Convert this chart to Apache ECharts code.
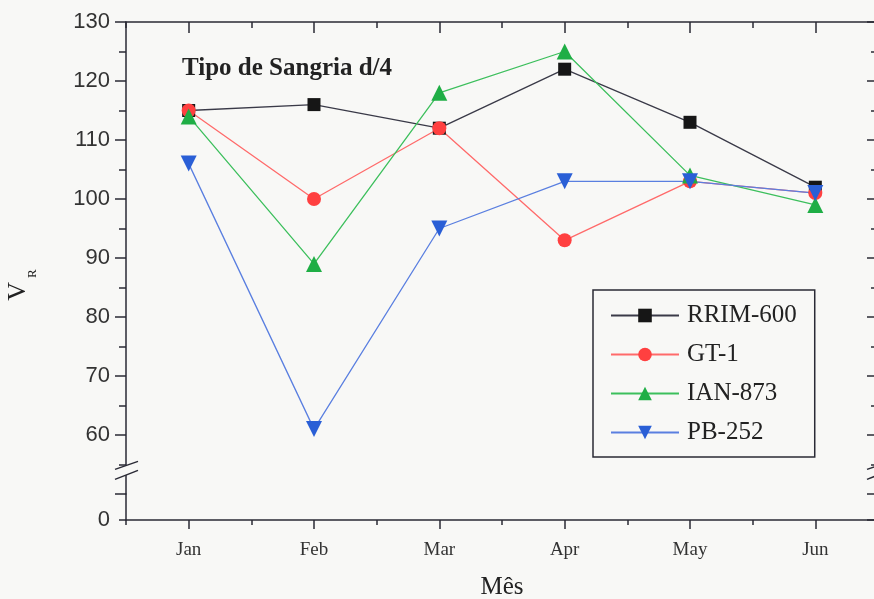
<!DOCTYPE html>
<html>
<head>
<meta charset="utf-8">
<title>Tipo de Sangria d/4</title>
<script src="https://cdn.jsdelivr.net/npm/echarts@6/dist/echarts.min.js"></script>
<style>
  html, body { margin: 0; padding: 0; background: #f8f8f6; }
  #chart { width: 874px; height: 599px; }
</style>
</head>
<body>
<div id="chart"></div>
<script>
// Months of collection
const months = ['Jan', 'Feb', 'Mar', 'Apr', 'May', 'Jun'];

// Mooney viscosity (V_R) per clone
const rrim600 = [115, 116, 112, 122, 113, 102];
const gt1     = [115, 100, 112,  93, 103, 101];
const ian873  = [114,  89, 118, 125, 104,  99];
const pb252   = [106,  61,  95, 103, 103, 101];

// Upper (main) y range and the short lower stub that holds the zero
const yMainMin = 50, yMainMax = 130, yMainStep = 10;
const yStubMin = 0, yStubMax = 5;
const yBreakAt = 54;   // where the "//" marks cut the axis

const BG = '#f8f8f6';
const AXIS = '#2a2a35';
const LEFT = 126, WIDTH = 752;
const GRID_MAIN = { left: LEFT, top: 22, width: WIDTH, height: 472 };
const GRID_STUB = { left: LEFT, top: 494, width: WIDTH, height: 26 };

const downTriangle = 'path://M0,0L10,0L5,9Z';

function lineSeries(name, data, symbol, size, markerColor, lineColor) {
  return {
    name: name,
    type: 'line',
    xAxisIndex: 2,
    yAxisIndex: 0,
    data: data,
    symbol: symbol,
    symbolSize: size,
    showSymbol: true,
    itemStyle: { color: markerColor, borderWidth: 0 },
    lineStyle: { color: lineColor, width: 1.3 },
    emphasis: { disabled: true },
    animation: false
  };
}

function yAxisCfg(gridIndex, position, min, max, step, minor, labelled, showLabels) {
  return {
    type: 'value',
    gridIndex: gridIndex,
    position: position,
    min: min,
    max: max,
    interval: step,
    axisLine: { show: true, lineStyle: { color: AXIS, width: 1.5 } },
    axisTick: { show: true, inside: position === 'right', length: 11, lineStyle: { color: AXIS, width: 1.5 } },
    minorTick: { show: minor, splitNumber: 2, length: 7, lineStyle: { color: AXIS, width: 1.5 } },
    splitLine: { show: false },
    axisLabel: {
      show: showLabels,
      margin: 16,
      fontFamily: 'Liberation Sans',
      fontSize: 22,
      color: '#333',
      formatter: function (v) { return labelled(v) ? String(v) : ''; }
    }
  };
}

function xAxisCfg(gridIndex, position, aligned, len, showLine, showLabel) {
  return {
    type: 'category',
    gridIndex: gridIndex,
    position: position,
    data: months,
    boundaryGap: true,
    axisLine: { show: showLine, lineStyle: { color: AXIS, width: 1.5 } },
    axisTick: { show: true, inside: position === 'top', alignWithLabel: aligned, length: len, lineStyle: { color: AXIS, width: 1.5 } },
    splitLine: { show: false },
    axisLabel: {
      show: showLabel,
      margin: 21,
      fontFamily: 'Liberation Serif',
      fontSize: 19,
      color: '#333'
    }
  };
}

const chart = echarts.init(document.getElementById('chart'), null, { renderer: 'canvas' });

const bottomAxis = xAxisCfg(1, 'bottom', true, 9, true, true);
bottomAxis.name = 'Mês';
bottomAxis.nameLocation = 'middle';
bottomAxis.nameGap = 55;
bottomAxis.nameTextStyle = { fontFamily: 'Liberation Serif', fontSize: 25, color: '#222' };

const mainLeft = yAxisCfg(0, 'left', yMainMin, yMainMax, yMainStep, true, function (v) { return v > yMainMin; }, true);
mainLeft.name = '{v|V}{r|R}';
mainLeft.nameLocation = 'middle';
mainLeft.nameGap = 87;
mainLeft.nameTextStyle = {
  padding: [0, 54, 0, 0],
  rich: {
    v: { fontFamily: 'Liberation Serif', fontSize: 26, lineHeight: 34, verticalAlign: 'top', color: '#222' },
    r: { fontFamily: 'Liberation Serif', fontSize: 13, lineHeight: 13, verticalAlign: 'bottom', color: '#222', padding: [0, 0, 0, 4] }
  }
};

const stubLeft = yAxisCfg(1, 'left', yStubMin, yStubMax, yStubMax, false, function (v) { return v === 0; }, true);
stubLeft.axisTick.length = 7;

chart.setOption({
  backgroundColor: BG,
  animation: false,
  title: {
    text: 'Tipo de Sangria d/4',
    left: 182,
    top: 56,
    padding: 0,
    textStyle: { fontFamily: 'Liberation Serif', fontWeight: 'bold', fontSize: 25, color: '#222' }
  },
  grid: [
    { left: GRID_MAIN.left, top: GRID_MAIN.top, width: GRID_MAIN.width, height: GRID_MAIN.height, containLabel: false, outerBoundsMode: 'none' },
    { left: GRID_STUB.left, top: GRID_STUB.top, width: GRID_STUB.width, height: GRID_STUB.height, containLabel: false, outerBoundsMode: 'none' }
  ],
  legend: {
    orient: 'vertical',
    left: 593,
    top: 290,
    itemWidth: 68,
    itemHeight: 17,
    itemGap: 14,
    padding: [13, 18, 12, 17],
    borderColor: AXIS,
    borderWidth: 1.5,
    selectedMode: false,
    textStyle: { fontFamily: 'Liberation Serif', fontSize: 25, color: '#222', padding: [0, 0, 0, 3] },
    data: ['RRIM-600', 'GT-1', 'IAN-873', 'PB-252']
  },
  xAxis: [
    bottomAxis,
    xAxisCfg(1, 'bottom', false, 5, false, false),
    xAxisCfg(0, 'top', true, 11, true, false),
    xAxisCfg(0, 'top', false, 6, false, false)
  ],
  yAxis: [
    mainLeft,
    yAxisCfg(0, 'right', yMainMin, yMainMax, yMainStep, true, function () { return false; }, false),
    stubLeft,
    yAxisCfg(1, 'right', yStubMin, yStubMax, yStubMax, false, function () { return false; }, false)
  ],
  series: [
    lineSeries('RRIM-600', rrim600, 'rect', 13, '#161616', '#3a3a48'),
    lineSeries('GT-1', gt1, 'circle', 14, '#ff4040', '#ff6a6a'),
    lineSeries('IAN-873', ian873, 'triangle', 16, '#1fae45', '#3cbf5c'),
    lineSeries('PB-252', pb252, downTriangle, 16, '#2a5fd6', '#5a7fe0')
  ]
});

// Draw "//" break marks where the y axes are interrupted
const mid = chart.convertToPixel({ yAxisIndex: 0 }, yBreakAt);
const marks = [];
[LEFT, LEFT + WIDTH].forEach(function (x) {
  marks.push({
    type: 'polygon',
    shape: { points: [[x - 11, mid - 1], [x + 12, mid - 9], [x + 12, mid], [x - 11, mid + 9]] },
    style: { fill: BG },
    z: 100
  });
  marks.push({
    type: 'line',
    shape: { x1: x - 11, y1: mid - 1, x2: x + 12, y2: mid - 9 },
    style: { stroke: AXIS, lineWidth: 1.5 },
    z: 101
  });
  marks.push({
    type: 'line',
    shape: { x1: x - 11, y1: mid + 9, x2: x + 12, y2: mid },
    style: { stroke: AXIS, lineWidth: 1.5 },
    z: 101
  });
});
chart.setOption({ graphic: marks });
</script>
</body>
</html>
